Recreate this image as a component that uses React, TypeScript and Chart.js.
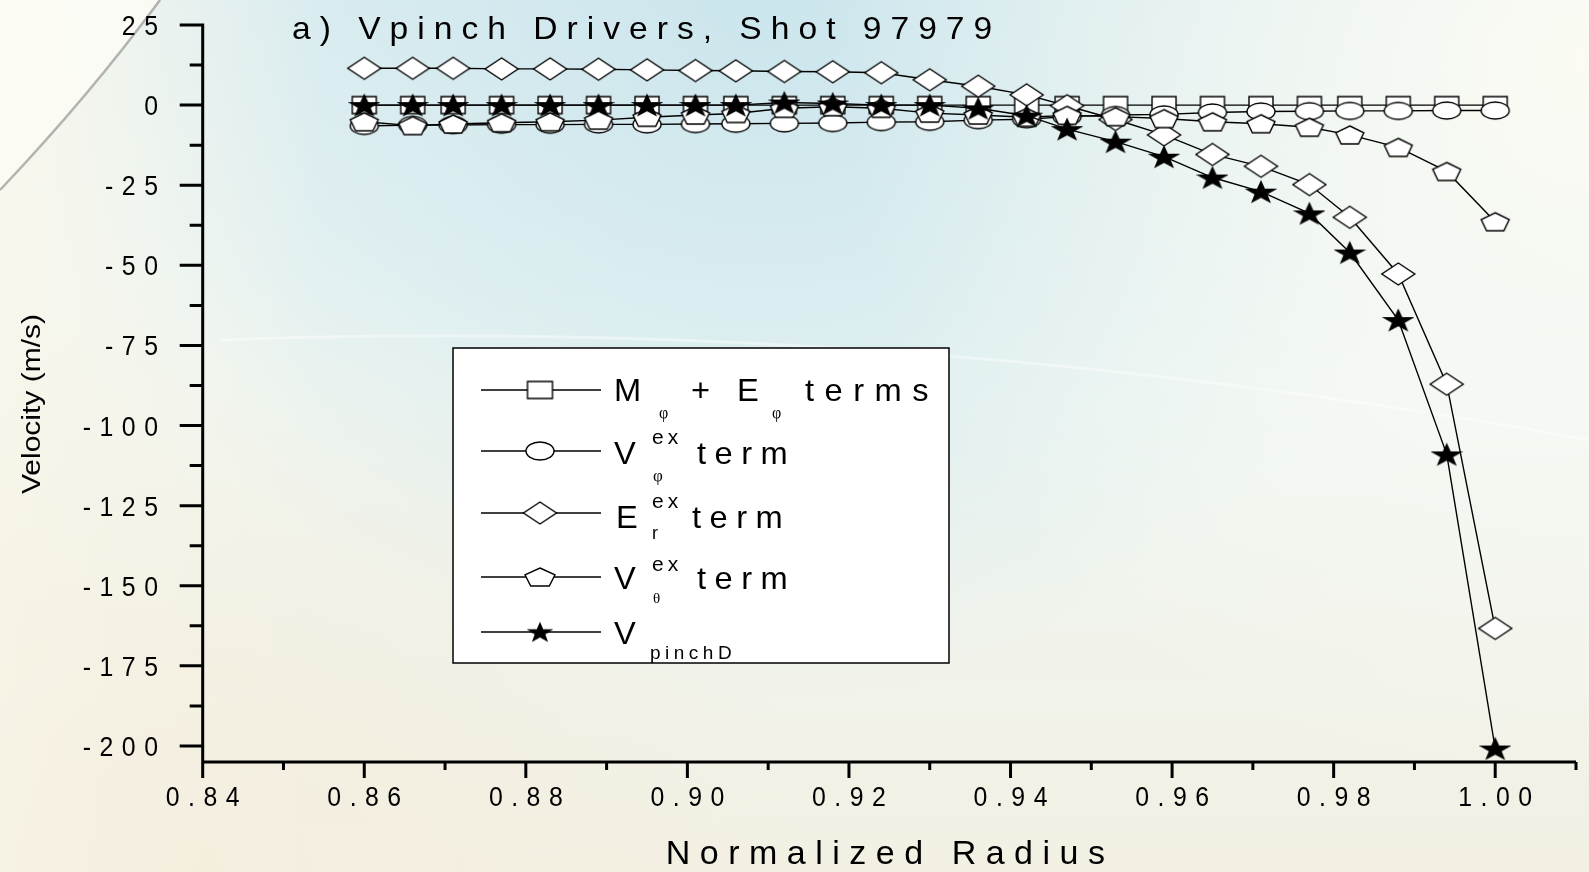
import { useEffect, useRef } from 'react';
import { Chart, registerables } from 'chart.js';

Chart.register(...registerables);

// ---------------- data ----------------
const radius = [0.860, 0.866, 0.871, 0.877, 0.883, 0.889, 0.895, 0.901, 0.906, 0.912, 0.918, 0.924, 0.930, 0.936, 0.942, 0.947, 0.953, 0.959, 0.965, 0.971, 0.977, 0.982, 0.988, 0.994, 1.000];
const mePhiTerms = [0, 0, 0, 0, 0, 0, 0, 0, 0, 0, 0, 0, 0, 0, 0, 0, 0, 0, 0, 0, 0, 0, 0, 0, 0];
const vPhiExTerm = [-6.5, -6.2, -6.2, -6.1, -6.1, -6.0, -6.0, -5.9, -5.8, -5.7, -5.6, -5.3, -5.2, -4.7, -4.4, -3.6, -3.1, -2.9, -2.3, -2.0, -1.9, -1.8, -1.8, -1.7, -1.7];
const eRExTerm = [11.5, 11.5, 11.5, 11.3, 11.3, 11.2, 11.0, 10.8, 10.7, 10.5, 10.4, 10.1, 7.9, 5.9, 3.2, -0.2, -4.5, -9.3, -15.4, -19.1, -24.8, -35.0, -52.7, -87.1, -163.3];
const vThetaExTerm = [-5.2, -6.4, -5.9, -5.5, -5.2, -4.7, -3.8, -3.1, -2.6, -1.0, -0.5, -1.0, -2.5, -3.1, -3.8, -3.2, -3.6, -4.2, -5.2, -5.8, -6.9, -9.3, -13.2, -20.7, -36.4];
const vPinchD = [0, 0, 0, 0, 0, 0, 0, 0, 0, 0.8, 0.5, 0, 0, -1.0, -3.3, -7.5, -11.4, -16.1, -22.6, -27.0, -33.8, -46.0, -67.1, -109.0, -200.8];

const xMajorTicks = [0.84, 0.86, 0.88, 0.90, 0.92, 0.94, 0.96, 0.98, 1.00];
const xMajorLabels = ['0.84', '0.86', '0.88', '0.90', '0.92', '0.94', '0.96', '0.98', '1.00'];
const xMinorTicks = [0.85, 0.87, 0.89, 0.91, 0.93, 0.95, 0.97, 0.99, 1.01];
const yMajorTicks = [25, 0, -25, -50, -75, -100, -125, -150, -175, -200];
const yMajorLabels = ['25', '0', '-25', '-50', '-75', '-100', '-125', '-150', '-175', '-200'];
const yMinorTicks = [12.5, -12.5, -37.5, -62.5, -87.5, -112.5, -137.5, -162.5, -187.5];

const titleText = 'a) Vpinch Drivers, Shot 97979';
const xTitle = 'Normalized Radius';
const yTitle = 'Velocity (m/s)';

const SANS = "'Liberation Sans', Arial, sans-serif";
const SERIF = "'Liberation Serif', 'DejaVu Serif', serif";

type Shape = 'square' | 'circle' | 'diamond' | 'pentagon' | 'star';

function makeMarker(shape: Shape, w: number, h: number): HTMLCanvasElement {
  const c = document.createElement('canvas');
  const cw = Math.ceil(w + 4);
  const ch = Math.ceil(h + 6);
  c.width = cw;
  c.height = ch;
  const ctx = c.getContext('2d')!;
  ctx.translate(cw / 2, ch / 2);
  ctx.lineWidth = 1.4;
  ctx.strokeStyle = '#000';
  ctx.fillStyle = '#fff';
  ctx.lineJoin = 'miter';
  ctx.beginPath();
  if (shape === 'square') {
    ctx.rect(-w / 2, -h / 2, w, h);
  } else if (shape === 'circle') {
    ctx.ellipse(0, 0, w / 2, h / 2, 0, 0, Math.PI * 2);
  } else if (shape === 'diamond') {
    ctx.moveTo(0, -h / 2);
    ctx.lineTo(w / 2, 0);
    ctx.lineTo(0, h / 2);
    ctx.lineTo(-w / 2, 0);
    ctx.closePath();
  } else if (shape === 'pentagon') {
    const rx = w / 1.902, ry = h / 1.809;
    const off = (1 - 0.809) / 2 * ry;
    for (let k = 0; k < 5; k++) {
      const a = -Math.PI / 2 + (2 * Math.PI * k) / 5;
      const px = Math.cos(a) * rx, py = Math.sin(a) * ry + off;
      if (k === 0) ctx.moveTo(px, py); else ctx.lineTo(px, py);
    }
    ctx.closePath();
  } else {
    const rx = w / 1.902, ry = h / 1.809;
    const off = (1 - 0.809) / 2 * ry;
    for (let k = 0; k < 10; k++) {
      const a = -Math.PI / 2 + (Math.PI * k) / 5;
      const r = k % 2 === 0 ? 1 : 0.4;
      const px = Math.cos(a) * rx * r, py = Math.sin(a) * ry * r + off;
      if (k === 0) ctx.moveTo(px, py); else ctx.lineTo(px, py);
    }
    ctx.closePath();
    ctx.fillStyle = '#000';
  }
  ctx.fill();
  ctx.stroke();
  return c;
}

function spaced(
  ctx: CanvasRenderingContext2D,
  text: string,
  x: number,
  y: number,
  font: string,
  spacing: number,
  sx: number,
  align: 'left' | 'center' | 'right'
) {
  ctx.save();
  ctx.font = font;
  ctx.textAlign = 'left';
  ctx.textBaseline = 'alphabetic';
  ctx.fillStyle = '#000';
  const chars = [...text];
  const widths = chars.map((ch) => ctx.measureText(ch).width * sx);
  const total = widths.reduce((a, b) => a + b, 0) + spacing * (chars.length - 1);
  let cx = align === 'center' ? x - total / 2 : align === 'right' ? x - total : x;
  chars.forEach((ch, i) => {
    ctx.save();
    ctx.translate(cx, y);
    ctx.scale(sx, 1);
    ctx.fillText(ch, 0, 0);
    ctx.restore();
    cx += widths[i] + spacing;
  });
  ctx.restore();
}

const backgroundPlugin = {
  id: 'bg',
  beforeDraw(chart: any) {
    const ctx: CanvasRenderingContext2D = chart.ctx;
    const W = chart.width, H = chart.height;
    ctx.save();
    const g = ctx.createLinearGradient(0, 0, 0, H);
    g.addColorStop(0, '#e0eff1');
    g.addColorStop(0.45, '#eef6f3');
    g.addColorStop(1, '#f3f0e3');
    ctx.fillStyle = g;
    ctx.fillRect(0, 0, W, H);

    const r1 = ctx.createRadialGradient(760, 0, 0, 760, 0, 700);
    r1.addColorStop(0, 'rgba(200,228,236,0.85)');
    r1.addColorStop(1, 'rgba(200,228,236,0)');
    ctx.fillStyle = r1;
    ctx.fillRect(0, 0, W, H);

    const r2 = ctx.createRadialGradient(1589, 60, 0, 1589, 60, 750);
    r2.addColorStop(0, 'rgba(251,251,243,1)');
    r2.addColorStop(1, 'rgba(251,251,243,0)');
    ctx.fillStyle = r2;
    ctx.fillRect(0, 0, W, H);

    const l1 = ctx.createLinearGradient(0, 0, 320, 0);
    l1.addColorStop(0, 'rgba(249,247,236,0.95)');
    l1.addColorStop(1, 'rgba(249,247,236,0)');
    ctx.fillStyle = l1;
    ctx.fillRect(0, 0, W, H);

    const r3 = ctx.createRadialGradient(200, 872, 0, 200, 872, 600);
    r3.addColorStop(0, 'rgba(244,238,222,0.9)');
    r3.addColorStop(1, 'rgba(244,238,222,0)');
    ctx.fillStyle = r3;
    ctx.fillRect(0, 0, W, H);

    // top-left arc
    ctx.beginPath();
    ctx.moveTo(0, 0);
    ctx.lineTo(160, 0);
    ctx.quadraticCurveTo(90, 95, 0, 190);
    ctx.closePath();
    ctx.fillStyle = 'rgba(252,251,244,0.85)';
    ctx.fill();
    ctx.beginPath();
    ctx.moveTo(160, 0);
    ctx.quadraticCurveTo(90, 95, 0, 190);
    ctx.strokeStyle = 'rgba(150,150,150,0.7)';
    ctx.lineWidth = 2.5;
    ctx.stroke();

    // faint swoosh
    ctx.beginPath();
    ctx.moveTo(220, 340);
    ctx.quadraticCurveTo(900, 315, 1589, 440);
    ctx.strokeStyle = 'rgba(255,255,255,0.4)';
    ctx.lineWidth = 3;
    ctx.stroke();
    ctx.restore();
  },
};

const axesPlugin = {
  id: 'axes',
  beforeDatasetsDraw(chart: any) {
    const ctx: CanvasRenderingContext2D = chart.ctx;
    const { left, right, top, bottom } = chart.chartArea;
    const xs = chart.scales.x, ys = chart.scales.y;
    ctx.save();
    ctx.strokeStyle = '#000';
    ctx.lineWidth = 3;
    ctx.lineCap = 'butt';
    ctx.beginPath();
    ctx.moveTo(left, top - 1.5);
    ctx.lineTo(left, bottom + 16);
    ctx.moveTo(left - 1.5, bottom);
    ctx.lineTo(right, bottom);
    xMajorTicks.forEach((v) => {
      const x = xs.getPixelForValue(v);
      ctx.moveTo(x, bottom);
      ctx.lineTo(x, bottom + 16);
    });
    xMinorTicks.forEach((v) => {
      const x = xs.getPixelForValue(v);
      ctx.moveTo(x, bottom);
      ctx.lineTo(x, bottom + 8);
    });
    yMajorTicks.forEach((v) => {
      const y = ys.getPixelForValue(v);
      ctx.moveTo(left - 23, y);
      ctx.lineTo(left, y);
    });
    yMinorTicks.forEach((v) => {
      const y = ys.getPixelForValue(v);
      ctx.moveTo(left - 13, y);
      ctx.lineTo(left, y);
    });
    ctx.stroke();

    const tickFont = `27px ${SANS}`;
    xMajorTicks.forEach((v, i) => {
      spaced(ctx, xMajorLabels[i], xs.getPixelForValue(v), 806, tickFont, 8.5, 0.92, 'center');
    });
    yMajorTicks.forEach((v, i) => {
      spaced(ctx, yMajorLabels[i], 158, ys.getPixelForValue(v) + 10, tickFont, 8.5, 0.92, 'right');
    });

    // titles
    spaced(ctx, titleText, 292, 39, `32px ${SANS}`, 9, 1.05, 'left');
    spaced(ctx, xTitle, (left + right) / 2 - 4, 864, `34px ${SANS}`, 9.5, 1.0, 'center');

    ctx.save();
    ctx.translate(40, 404);
    ctx.rotate(-Math.PI / 2);
    ctx.font = `25px ${SANS}`;
    ctx.fillStyle = '#000';
    ctx.textAlign = 'center';
    ctx.textBaseline = 'alphabetic';
    ctx.scale(1.2, 1);
    ctx.fillText(yTitle, 0, 0);
    ctx.restore();
    ctx.restore();
  },
};

function makeLegendPlugin(markers: HTMLCanvasElement[]) {
  return {
    id: 'customLegend',
    afterDatasetsDraw(chart: any) {
      const ctx: CanvasRenderingContext2D = chart.ctx;
      ctx.save();
      ctx.fillStyle = '#fff';
      ctx.fillRect(453, 348, 496, 315);
      ctx.strokeStyle = '#000';
      ctx.lineWidth = 1.5;
      ctx.strokeRect(453, 348, 496, 315);
      const rows = [390, 451, 513, 577, 632];
      rows.forEach((ry, i) => {
        ctx.beginPath();
        ctx.moveTo(481, ry);
        ctx.lineTo(601, ry);
        ctx.lineWidth = 1.4;
        ctx.strokeStyle = '#000';
        ctx.stroke();
        const m = markers[i];
        ctx.drawImage(m, 540 - m.width / 2, ry - m.height / 2);
      });
      const main = `32px ${SANS}`;
      const sup = `21px ${SANS}`;
      const msx = 1.02;
      // row 1
      spaced(ctx, 'M', 614, 401, main, 0, msx, 'left');
      spaced(ctx, 'φ', 659, 418, `16px ${SERIF}`, 0, 1, 'left');
      spaced(ctx, '+', 691, 401, main, 0, msx, 'left');
      spaced(ctx, 'E', 737, 401, main, 0, msx, 'left');
      spaced(ctx, 'φ', 772, 418, `16px ${SERIF}`, 0, 1, 'left');
      spaced(ctx, 'terms', 805, 401, main, 10.5, msx, 'left');
      // row 2
      spaced(ctx, 'V', 614, 464, main, 0, msx, 'left');
      spaced(ctx, 'ex', 652, 444, sup, 4, 1.0, 'left');
      spaced(ctx, 'φ', 653, 481, `17px ${SERIF}`, 0, 1, 'left');
      spaced(ctx, 'term', 697, 464, main, 8.5, msx, 'left');
      // row 3
      spaced(ctx, 'E', 616, 528, main, 0, msx, 'left');
      spaced(ctx, 'ex', 652, 508, sup, 4, 1.0, 'left');
      spaced(ctx, 'r', 652, 539, `18px ${SANS}`, 0, 1, 'left');
      spaced(ctx, 'term', 692, 528, main, 8.5, msx, 'left');
      // row 4
      spaced(ctx, 'V', 614, 589, main, 0, msx, 'left');
      spaced(ctx, 'ex', 652, 571, sup, 4, 1.0, 'left');
      spaced(ctx, 'θ', 653, 603, `15px ${SERIF}`, 0, 1, 'left');
      spaced(ctx, 'term', 697, 589, main, 8.5, msx, 'left');
      // row 5
      spaced(ctx, 'V', 614, 644, main, 0, msx, 'left');
      spaced(ctx, 'pinchD', 650, 659, `19px ${SANS}`, 4.5, 1.0, 'left');
      ctx.restore();
    },
  };
}

export default function App() {
  const canvasRef = useRef<HTMLCanvasElement | null>(null);

  useEffect(() => {
    const canvas = canvasRef.current;
    if (!canvas) return;
    const mSquare = makeMarker('square', 24, 17);
    const mCircle = makeMarker('circle', 28, 17);
    const mDiamond = makeMarker('diamond', 33, 22);
    const mPentagon = makeMarker('pentagon', 28, 18);
    const mStar = makeMarker('star', 28, 20);
    const legendMarkers = [
      makeMarker('square', 25, 17),
      makeMarker('circle', 28, 18),
      makeMarker('diamond', 33, 22),
      makeMarker('pentagon', 30, 18),
      makeMarker('star', 22, 17),
    ];
    const pts = (arr: number[]) => radius.map((x, i) => ({ x, y: arr[i] }));
    const common = {
      borderColor: '#000',
      borderWidth: 1.4,
      tension: 0,
      fill: false,
      pointRadius: 6,
      pointHoverRadius: 6,
      clip: false as const,
    };
    const chart = new Chart(canvas, {
      type: 'line',
      data: {
        datasets: [
          { ...common, label: 'M + E terms', data: pts(mePhiTerms), pointStyle: mSquare, order: 5 },
          { ...common, label: 'V ex term', data: pts(vPhiExTerm), pointStyle: mCircle, order: 4 },
          { ...common, label: 'Er ex term', data: pts(eRExTerm), pointStyle: mDiamond, order: 3 },
          { ...common, label: 'Vtheta ex term', data: pts(vThetaExTerm), pointStyle: mPentagon, order: 2 },
          { ...common, label: 'VpinchD', data: pts(vPinchD), pointStyle: mStar, order: 1 },
        ] as any,
      },
      options: {
        responsive: false,
        animation: false,
        events: [],
        layout: { padding: { left: 202.7, right: 13, top: 25, bottom: 110 } },
        plugins: {
          legend: { display: false },
          tooltip: { enabled: false },
          title: { display: false },
        },
        scales: {
          x: { type: 'linear', min: 0.84, max: 1.01, display: false },
          y: { type: 'linear', min: -205, max: 25, display: false },
        },
      },
      plugins: [backgroundPlugin, axesPlugin, makeLegendPlugin(legendMarkers)],
    });
    return () => chart.destroy();
  }, []);

  return (
    <div style={{ position: 'fixed', left: 0, top: 0, width: 1589, height: 872 }}>
      <canvas ref={canvasRef} width={1589} height={872} style={{ display: 'block' }} />
    </div>
  );
}
